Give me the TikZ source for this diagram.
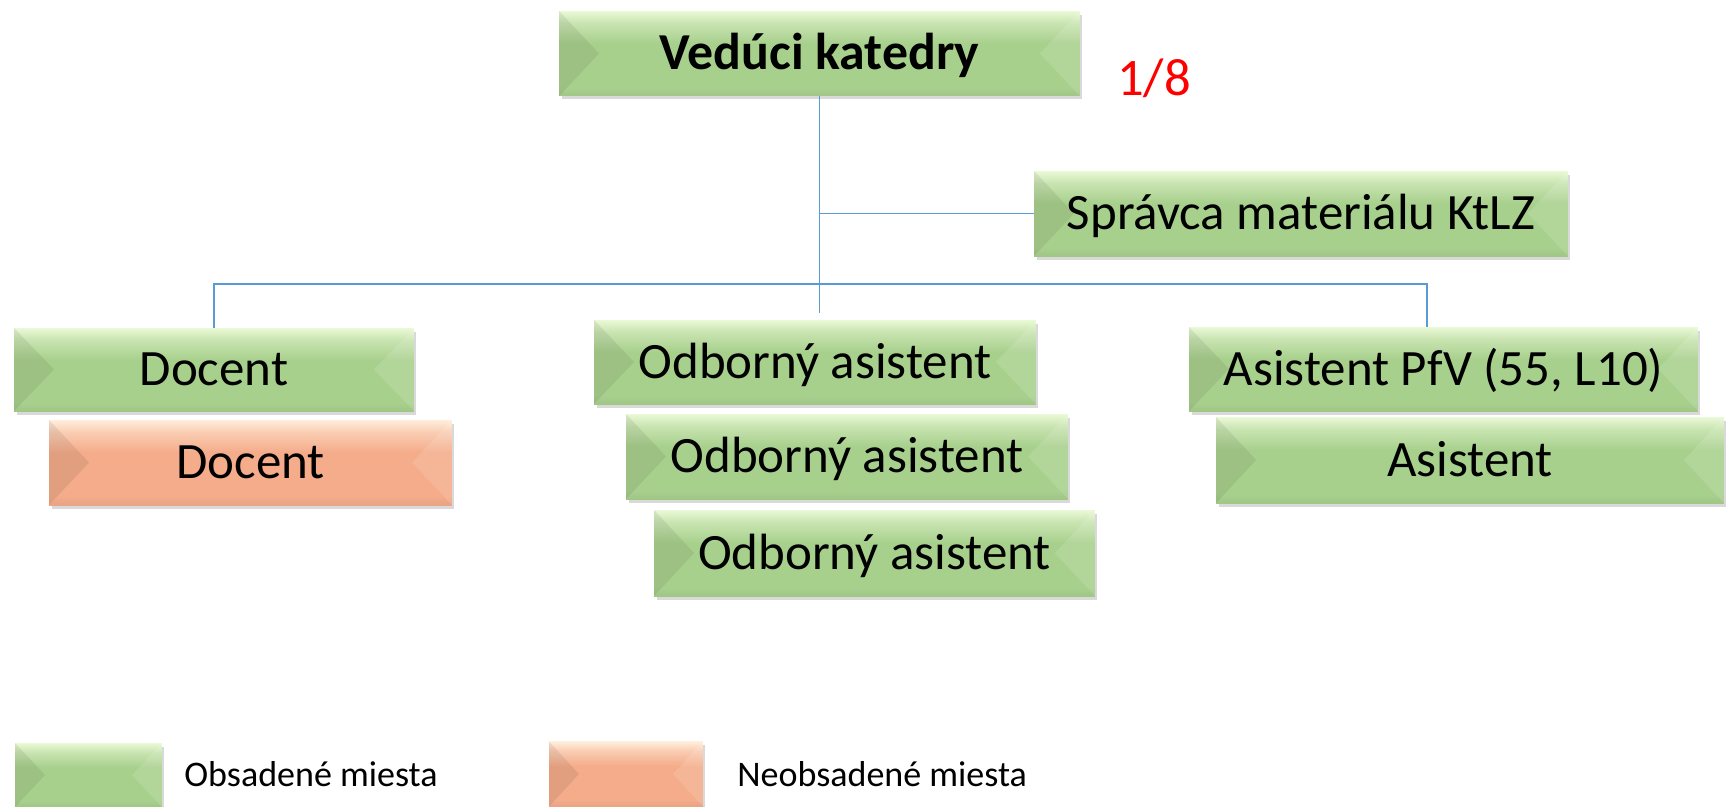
\documentclass[tikz,border=0pt]{standalone}
\usepackage{fontspec}
\setmainfont{Carlito}
\usetikzlibrary{shadows}
\definecolor{grhi}{RGB}{234,249,214}
\definecolor{grmid}{RGB}{168,208,141}
\definecolor{orhi}{RGB}{255,238,220}
\definecolor{ormid}{RGB}{244,172,138}
\definecolor{linkblue}{RGB}{91,155,213}
\pgfdeclareverticalshading{greenpost}{100bp}{color(0bp)=(grmid!92!black); color(26bp)=(grmid!96!black); color(30bp)=(grmid); color(56bp)=(grmid); color(68bp)=(grmid!50!grhi); color(75bp)=(grhi); color(100bp)=(grhi)}
\pgfdeclareverticalshading{orangepost}{100bp}{color(0bp)=(ormid!92!black); color(26bp)=(ormid!96!black); color(30bp)=(ormid); color(56bp)=(ormid); color(68bp)=(ormid!50!orhi); color(75bp)=(orhi); color(100bp)=(orhi)}
\tikzset{
    bevel/.store in=\bevd, bevel=0.8cm,
    post/.style={inner sep=0pt, minimum height=1.68cm, text height=18.5pt, text depth=0pt,
        font=\fontsize{29}{34}\selectfont,
        drop shadow={shadow xshift=0.5mm, shadow yshift=-0.7mm, opacity=0.3},
        path picture={
            \fill[black, opacity=0.07] (path picture bounding box.north west) -- ([xshift=\bevd]path picture bounding box.west) -- (path picture bounding box.south west) -- cycle;
            \fill[white, opacity=0.12] (path picture bounding box.north east) -- ([xshift=-\bevd]path picture bounding box.east) -- (path picture bounding box.south east) -- cycle;
        }},
    filled/.style={post, shading=greenpost},
    vacant/.style={post, shading=orangepost},
    legtext/.style={anchor=base west, inner sep=0pt, font=\fontsize{20.5}{24}\selectfont},
    link/.style={draw=linkblue, line width=0.8pt},
}
\begin{document}
\begin{tikzpicture}[x=0.02cm, y=-0.02cm]
    \useasboundingbox (0,0) rectangle (1731,806);
    \node[filled, minimum width=10.42cm, minimum height=1.7cm, font=\fontsize{29.5}{34}\selectfont\bfseries] (veduci) at (819.5,53.5) {Vedúci katedry};
    \node[text=red, anchor=base, font=\fontsize{30}{36}\selectfont] (ratio) at (1154,95) {1/8};
    \node[filled, minimum width=10.68cm, minimum height=1.7cm] (spravca) at (1301,213.5) {Správca materiálu KtLZ};
    \node[filled, minimum width=8cm, minimum height=1.66cm] (docent) at (214,369.5) {Docent};
    \node[vacant, minimum width=8.06cm, minimum height=1.7cm] (docentvac) at (250.5,462.5) {Docent};
    \node[filled, minimum width=8.84cm] (odb1) at (815,362) {Odborný asistent};
    \node[filled, minimum width=8.84cm, minimum height=1.7cm] (odb2) at (847,456.5) {Odborný asistent};
    \node[filled, minimum width=8.82cm, minimum height=1.72cm] (odb3) at (874.5,553) {Odborný asistent};
    \node[filled, minimum width=10.18cm] (asistpfv) at (1443.5,369) {Asistent PfV (55, L10)};
    \node[filled, minimum width=10.16cm, minimum height=1.72cm] (asist) at (1470,460) {Asistent};
    \coordinate (barend) at (1427,284);
    \draw[link, shorten >=0.14cm] (veduci.south) -- (veduci.south |- odb1.north);
    \draw[link] (veduci.south |- spravca.west) -- (spravca.west);
    \draw[link] (docent.north) -- (docent.north |- barend) -- (barend) -- (barend |- asistpfv.north);
    \node[filled, bevel=0.6cm, minimum width=2.94cm, minimum height=1.28cm] (legobs) at (88.5,775) {};
    \node[legtext] (legobstext) at (184,786) {Obsadené miesta};
    \node[vacant, bevel=0.6cm, minimum width=3.08cm, minimum height=1.3cm] (legneobs) at (626,774) {};
    \node[legtext] (legneobstext) at (737,786) {Neobsadené miesta};
\end{tikzpicture}
\end{document}
